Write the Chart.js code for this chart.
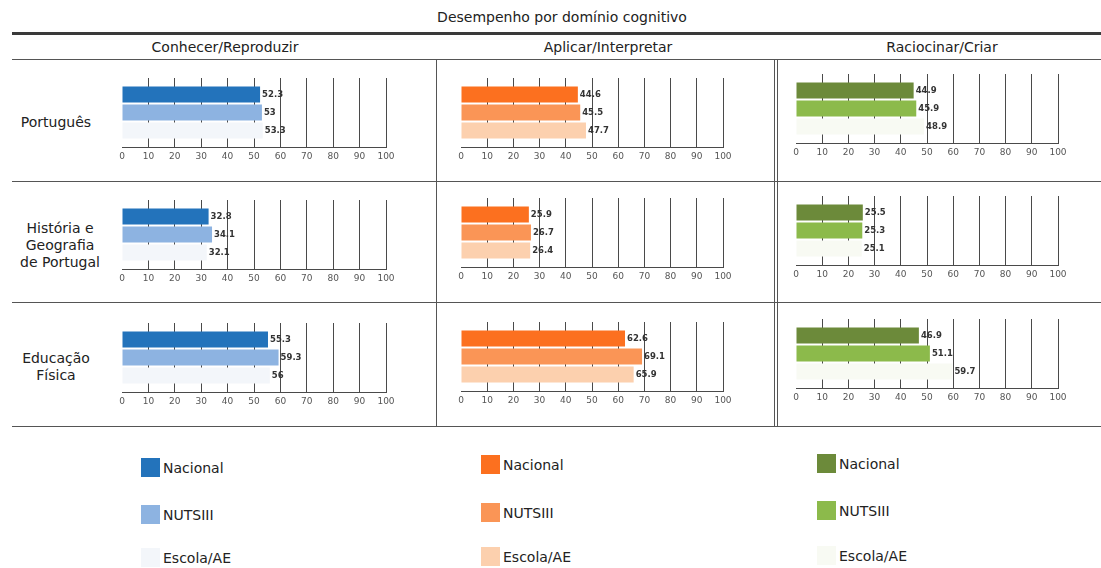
<!DOCTYPE html>
<html lang="pt">
<head>
<meta charset="utf-8">
<title>Desempenho por domínio cognitivo</title>
<script src="https://cdn.jsdelivr.net/npm/chart.js@4.4.1/dist/chart.umd.min.js"></script>
<style>
  html, body { margin: 0; padding: 0; background: #fff; }
  body { width: 1101px; height: 568px; position: relative; overflow: hidden;
         font-family: "DejaVu Sans", sans-serif; color: #222; }
  .abs { position: absolute; }
  .hline { position: absolute; height: 0; border-top: 1px solid #555; }
  .vline { position: absolute; width: 0; border-left: 1px solid #555; }
  .title { font-size: 14px; color: #222; white-space: nowrap; transform: translateX(-50%); }
  .head { font-size: 14px; color: #222; white-space: nowrap; transform: translateX(-50%); }
  .rowlab { font-size: 14px; line-height: 17px; text-align: center; color: #222; white-space: nowrap; transform: translate(-50%, -50%); }
  .sw { position: absolute; width: 19px; height: 19px; }
  .lt { position: absolute; font-size: 14px; color: #222; white-space: nowrap; transform: translateY(-50%); }
  canvas { position: absolute; }
</style>
</head>
<body>
<script>
// ---- data ----
const chartTitle = 'Desempenho por domínio cognitivo';
const domains = ['Conhecer/Reproduzir', 'Aplicar/Interpretar', 'Raciocinar/Criar'];
const subjects = [['Português'], ['História e', 'Geografia', 'de Portugal'], ['Educação', 'Física']];
const seriesNames = ['Nacional', 'NUTSIII', 'Escola/AE'];
// rows = subjects, columns = domains
const nacional = [[52.3, 44.6, 44.9], [32.8, 25.9, 25.5], [55.3, 62.6, 46.9]];
const nutsiii  = [[53.0, 45.5, 45.9], [34.1, 26.7, 25.3], [59.3, 69.1, 51.1]];
const escola   = [[53.3, 47.7, 48.9], [32.1, 26.4, 25.1], [56.0, 65.9, 59.7]];
const xTicks = [0, 10, 20, 30, 40, 50, 60, 70, 80, 90, 100];

// ---- styling ----
const palettes = [
  ['#2373bb', '#8db3e1', '#f3f6fa'],
  ['#fc701f', '#fa9556', '#fcd0ae'],
  ['#6c8a3a', '#8cba4b', '#f8faf3']
];
const plotLeft = [122, 461, 796];
const plotRight = [386, 723, 1058];
const axisY = [[147, 147, 143], [269, 267, 265], [392, 391, 388]];
const plotH = 69;
const rowLabelPos = [[56, 122], [60, 245], [56, 367]];
const headX = [225, 608, 942];
const legendX = [141, 481, 817];
const legendY = [[458, 505, 548], [455, 503, 547], [454, 501, 546]];

const body = document.body;
function el(tag, cls, style, text) {
  const e = document.createElement(tag);
  if (cls) e.className = cls;
  Object.assign(e.style, style || {});
  if (text !== undefined) e.textContent = text;
  body.appendChild(e);
  return e;
}

// frame and headings
el('div', 'abs title', { left: '562px', top: '9px' }, chartTitle);
el('div', 'abs', { left: '12px', top: '32px', width: '1089px', height: '3px', background: '#3a3a3a' });
domains.forEach((d, i) => el('div', 'abs head', { left: headX[i] + 'px', top: '39px' }, d));
[59, 181, 302, 426].forEach(y => el('div', 'hline', { left: '12px', top: y + 'px', width: '1089px' }));
[436, 774, 777].forEach(x => el('div', 'vline', { left: x + 'px', top: '59px', height: '367px' }));

subjects.forEach((lines, r) => {
  const d = el('div', 'abs rowlab', { left: rowLabelPos[r][0] + 'px', top: rowLabelPos[r][1] + 'px' });
  d.innerHTML = lines.map(s => s.replace(/&/g, '&amp;')).join('<br>');
});

// value labels at the end of each bar
const valueLabels = {
  id: 'valueLabels',
  afterDatasetsDraw(chart) {
    const ctx = chart.ctx;
    ctx.save();
    ctx.font = 'bold 8.5px "DejaVu Sans"';
    ctx.fillStyle = '#333';
    ctx.textAlign = 'left';
    ctx.textBaseline = 'middle';
    chart.data.datasets.forEach((ds, i) => {
      chart.getDatasetMeta(i).data.forEach((bar, j) => {
        const v = ds.data[j];
        ctx.fillText(String(v), bar.x + 2, bar.y);
      });
    });
    ctx.restore();
  }
};

const padL = 12, padR = 14, padT = 4, axisH = 16;
for (let r = 0; r < subjects.length; r++) {
  for (let c = 0; c < domains.length; c++) {
    const cv = document.createElement('canvas');
    const w = plotRight[c] - plotLeft[c] + padL + padR;
    const h = plotH + padT + axisH;
    cv.width = w; cv.height = h;
    cv.style.left = (plotLeft[c] - padL) + 'px';
    cv.style.top = (axisY[r][c] - plotH - padT) + 'px';
    cv.style.width = w + 'px'; cv.style.height = h + 'px';
    body.appendChild(cv);
    const values = [nacional[r][c], nutsiii[r][c], escola[r][c]];
    new Chart(cv, {
      type: 'bar',
      data: {
        labels: [subjects[r].join(' ')],
        datasets: seriesNames.map((name, k) => ({
          label: name,
          data: [values[k]],
          backgroundColor: palettes[c][k],
          borderWidth: 0,
          categoryPercentage: 0.78,
          barPercentage: 0.89
        }))
      },
      options: {
        indexAxis: 'y',
        responsive: false,
        animation: false,
        events: [],
        layout: { padding: { left: padL, right: padR, top: padT, bottom: 0 } },
        plugins: { legend: { display: false }, tooltip: { enabled: false } },
        scales: {
          x: {
            min: 0, max: 100,
            afterBuildTicks: s => { s.ticks = xTicks.map(v => ({ value: v })); },
            afterFit: s => { s.height = axisH; },
            grid: {
              drawTicks: false,
              color: ctx => (ctx.tick && ctx.tick.value === 0) ? 'rgba(0,0,0,0)' : '#4a4a4a',
              lineWidth: 1
            },
            border: { display: true, color: '#4a4a4a', width: 1 },
            ticks: {
              padding: 4,
              autoSkip: false,
              maxRotation: 0,
              color: '#555',
              font: { family: 'DejaVu Sans', size: 9 }
            }
          },
          y: { display: false }
        }
      },
      plugins: [valueLabels]
    });
  }
}

// legends, one per domain
domains.forEach((d, c) => {
  seriesNames.forEach((name, k) => {
    const y = legendY[c][k];
    el('div', 'sw', { left: legendX[c] + 'px', top: y + 'px', background: palettes[c][k] });
    el('div', 'lt', { left: (legendX[c] + 22) + 'px', top: (y + 10) + 'px' }, name);
  });
});
</script>
</body>
</html>
